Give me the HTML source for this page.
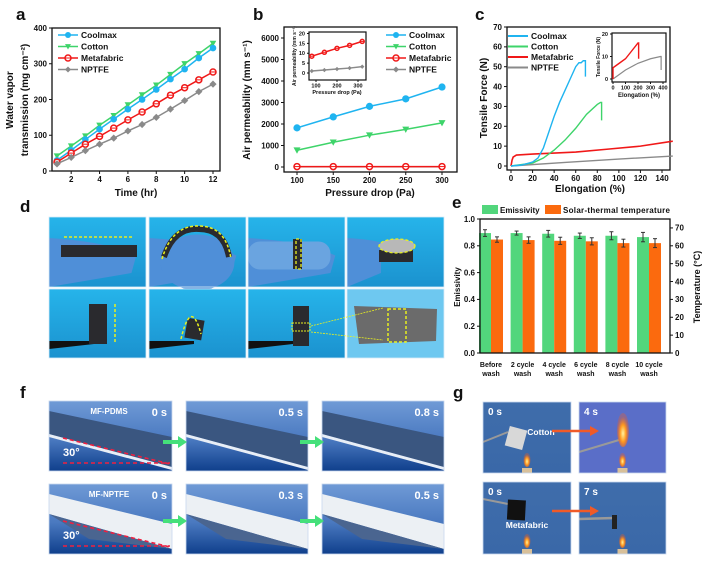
<!DOCTYPE html>
<html><head><meta charset="utf-8"><style>
body{margin:0;background:#fff;}
svg{display:block;font-family:"Liberation Sans",Arial,sans-serif;font-weight:bold;}
</style></head><body>
<svg id="fig" width="709" height="579" viewBox="0 0 709 579" xmlns="http://www.w3.org/2000/svg">
<defs>
<linearGradient id="bgD" x1="0" y1="0" x2="0" y2="1"><stop offset="0" stop-color="#26b4ea"/><stop offset="1" stop-color="#1b92cf"/></linearGradient>
<linearGradient id="bgF" x1="0" y1="0" x2="0" y2="1"><stop offset="0" stop-color="#6f9ad6"/><stop offset="0.55" stop-color="#4a79c0"/><stop offset="1" stop-color="#0f3f8c"/></linearGradient>
<linearGradient id="bgG" x1="0" y1="0" x2="0" y2="1"><stop offset="0" stop-color="#3f6dab"/><stop offset="1" stop-color="#3a68a8"/></linearGradient>
<radialGradient id="flame" cx="0.5" cy="0.6" r="0.5"><stop offset="0" stop-color="#fff3a0"/><stop offset="0.5" stop-color="#ff9a20"/><stop offset="1" stop-color="#ff5a10" stop-opacity="0.3"/></radialGradient>
</defs>
<g id="panels"></g>
</svg>
<script>
// ---------- Panel a data ----------
const aTimes=[1,2,3,4,5,6,7,8,9,10,11,12];
const aCoolmax=[30,58,88,117,145,173,200,228,257,285,316,344];
const aCotton=[42,70,98,128,155,185,213,240,270,300,328,357];
const aMeta=[25,50,75,97,120,143,165,188,212,233,255,277];
const aNptfe=[20,38,57,75,92,112,130,150,173,197,222,243];
const aXTicks=[2,4,6,8,10,12];
const aYTicks=[0,100,200,300,400];
// ---------- Panel b data ----------
const bPress=[100,150,200,250,300];
const bCoolmax=[1820,2330,2820,3170,3720];
const bCotton=[780,1150,1480,1750,2050];
const bMeta=[20,20,20,20,20];
const bNptfe=[10,10,10,10,10];
const bXTicks=[100,150,200,250,300];
const bYTicks=[0,1000,2000,3000,4000,5000,6000];
const bInsetX=[80,140,200,260,320];
const bInsetMeta=[8.5,10.5,12.5,14,16];
const bInsetNptfe=[1,1.5,2,2.5,3.2];
const bInsetXTicks=[100,200,300];
const bInsetYTicks=[0,5,10,15,20];
// ---------- Panel c data ----------
const cCoolX=[0,10,20,25,30,35,40,45,50,55,60,63,65,67,69,69];
const cCoolY=[0,0.5,2,4,9,17,25,32,38,44,50,52,52,53,53,45];
const cCotX=[0,20,30,40,50,60,70,80,83,84,84];
const cCotY=[0,1.5,4,8,13,19,26,31,32,32,23];
const cMetaX=[0,1,2,5,20,60,90,120,150];
const cMetaY=[0,3,4.5,5.5,6,7,8.5,10,12.5];
const cNpX=[0,50,100,150];
const cNpY=[0,1.8,3.5,5];
const cXTicks=[0,20,40,60,80,100,120,140];
const cYTicks=[0,10,20,30,40,50,60,70];
const cInMetaX=[0,0,50,100,150,200,205,205];
const cInMetaY=[0,5,7,9,12.5,16,16,9];
const cInNpX=[0,100,200,300,380,385,385];
const cInNpY=[0,4,7,9,10,10,4];
const cInXTicks=[0,100,200,300,400];
const cInYTicks=[0,10,20];
// ---------- Panel e data ----------
const eCats=[["Before","wash"],["2 cycle","wash"],["4 cycle","wash"],["6 cycle","wash"],["8 cycle","wash"],["10 cycle","wash"]];
const eEmis=[0.895,0.895,0.89,0.875,0.875,0.865];
const eEmisErr=[0.025,0.015,0.025,0.02,0.03,0.035];
const eTemp=[63.5,63.2,62.8,62.5,61.5,61.5];
const eTempErr=[1.5,1.8,2,2,2.2,2.5];
const eYTicks=[0,0.2,0.4,0.6,0.8,1.0];
const eY2Ticks=[0,10,20,30,40,50,60,70];

const NS="http://www.w3.org/2000/svg";
const root=document.getElementById('panels');
function el(tag,attrs,parent,text){const e=document.createElementNS(NS,tag);for(const k in attrs)e.setAttribute(k,attrs[k]);if(text!==undefined)e.textContent=text;(parent||root).appendChild(e);return e;}
function lin(d0,d1,r0,r1){return v=>r0+(v-d0)*(r1-r0)/(d1-d0);}
const C={cool:'#1fb4f0',cot:'#3ed46a',meta:'#f01818',np:'#8a8a8a'};

function frame(x0,y0,x1,y1,name,sw){const r=el('rect',{x:x0,y:y0,width:x1-x0,height:y1-y0,fill:'none',stroke:'#111','stroke-width':sw||1.3});return r;}
function xticks(ticks,sx,yb,fs,name,len){ticks.forEach(t=>{el('line',{x1:sx(t),x2:sx(t),y1:yb,y2:yb+(len||3),stroke:'#111','stroke-width':1});const tx=el('text',{x:sx(t),y:yb+(len||3)+fs,'font-size':fs,'text-anchor':'middle',fill:'#111'},root,String(t));});}
function yticks(ticks,sy,xl,fs,name,fmt,right,len){ticks.forEach(t=>{const d=right?1:-1;el('line',{x1:xl,x2:xl+d*(len||3),y1:sy(t),y2:sy(t),stroke:'#111','stroke-width':1});const tx=el('text',{x:xl+d*((len||3)+2),y:sy(t)+fs*0.35,'font-size':fs,'text-anchor':right?'start':'end',fill:'#111'},root,fmt?fmt(t):String(t));});}
function series(xs,ys,sx,sy,color,marker,name,r,sw){const pts=xs.map((x,i)=>sx(x)+','+sy(ys[i])).join(' ');const pl=el('polyline',{points:pts,fill:'none',stroke:color,'stroke-width':sw||1.5});
 if(marker)xs.forEach((x,i)=>{const m=drawMarker(marker,sx(x),sy(ys[i]),r||3,color);});}
function drawMarker(type,x,y,r,c){
 if(type==='circle')return el('circle',{cx:x,cy:y,r:r,fill:c});
 if(type==='tri')return el('polygon',{points:`${x-r},${y-r*0.8} ${x+r},${y-r*0.8} ${x},${y+r}`,fill:c});
 if(type==='ring'){const g=el('g',{});el('circle',{cx:x,cy:y,r:r,fill:'#fff',stroke:c,'stroke-width':1.5},g);el('line',{x1:x-r,x2:x+r,y1:y,y2:y,stroke:c,'stroke-width':1},g);return g;}
 if(type==='diamond')return el('polygon',{points:`${x},${y-r} ${x+r},${y} ${x},${y+r} ${x-r},${y}`,fill:c});
}
function label(x,y,t,fs,name,extra){const a=Object.assign({x:x,y:y,'font-size':fs,fill:'#111'},extra||{});const e=el('text',a,root,t);return e;}
function legend(x,y,dy,items,fs,name,lineOnly){items.forEach((it,i)=>{const yy=y+i*dy;el('line',{x1:x,x2:x+20,y1:yy,y2:yy,stroke:it[1],'stroke-width':lineOnly?2:1.5});if(!lineOnly){const m=drawMarker(it[2],x+10,yy,3,it[1]);}const t=label(x+23,yy+fs*0.36,it[0],fs,name+'-entry');});}

// ===== Panel a =====
label(16,20,'a',17,'panel-a-label');
{const sx=lin(1,12,57,213),sy=lin(0,400,171,28);
 frame(52,28,220,171,'panel-a-plot-frame');
 xticks(aXTicks,sx,171,8,'panel-a-x-tick');yticks(aYTicks,sy,52,8,'panel-a-y-tick');
 series(aTimes,aCotton,sx,sy,C.cot,'tri','cotton',3.3);
 series(aTimes,aCoolmax,sx,sy,C.cool,'circle','coolmax',3.3);
 series(aTimes,aMeta,sx,sy,C.meta,'ring','metafabric',3);
 series(aTimes,aNptfe,sx,sy,C.np,'diamond','nptfe',3.6);
 legend(58,35,11.5,[['Coolmax',C.cool,'circle'],['Cotton',C.cot,'tri'],['Metafabric',C.meta,'ring'],['NPTFE',C.np,'diamond']],8.5,'panel-a-legend');
 label(136,196,'Time (hr)',10,'panel-a-x-title',{'text-anchor':'middle'});
 label(13,100,'Water vapor',10,'panel-a-y-title',{'text-anchor':'middle',transform:'rotate(-90 13 100)'});
 label(28,100,'transmission (mg cm⁻²)',10,'panel-a-y-title',{'text-anchor':'middle',transform:'rotate(-90 28 100)'});
}
// ===== Panel b =====
label(253,20,'b',17,'panel-b-label');
{const sx=lin(100,300,297,442),sy=lin(0,6000,167,38);
 frame(284,27,457,172,'panel-b-plot-frame');
 xticks(bXTicks,sx,172,8,'panel-b-x-tick');yticks(bYTicks,sy,284,8,'panel-b-y-tick');
 series(bPress,bNptfe,sx,sy,C.np,'diamond','b-nptfe',3.6);
 series(bPress,bMeta,sx,sy,C.meta,'ring','b-metafabric',3);
 series(bPress,bCotton,sx,sy,C.cot,'tri','b-cotton',3.5);
 series(bPress,bCoolmax,sx,sy,C.cool,'circle','b-coolmax',3.6);
 legend(386,35,11.5,[['Coolmax',C.cool,'circle'],['Cotton',C.cot,'tri'],['Metafabric',C.meta,'ring'],['NPTFE',C.np,'diamond']],8.5,'panel-b-legend');
 label(370,196,'Pressure drop (Pa)',10,'panel-b-x-title',{'text-anchor':'middle'});
 label(250,100,'Air permeability (mm s⁻¹)',10,'panel-b-y-title',{'text-anchor':'middle',transform:'rotate(-90 250 100)'});
 const ix=lin(100,300,316,358),iy=lin(0,20,73,33.5);
 el('rect',{x:309,y:32,width:57,height:48,fill:'#fff'});
 frame(309,32,366,80,'panel-b-inset-frame',1.2);
 series(bInsetX,bInsetMeta,ix,iy,C.meta,'ring','b-inset-metafabric',2);
 series(bInsetX,bInsetNptfe,ix,iy,C.np,'diamond','b-inset-nptfe',2.2);
 xticks(bInsetXTicks,ix,80,5.5,'panel-b-inset-x-tick',2);yticks(bInsetYTicks,iy,309,5.5,'panel-b-inset-y-tick',null,false,2);
 label(337,94,'Pressure drop (Pa)',5.5,'panel-b-inset-x-title',{'text-anchor':'middle'});
 label(296,56,'Air permeability (mm s⁻¹)',5,'panel-b-inset-y-title',{'text-anchor':'middle',transform:'rotate(-90 296 56)'});
}
// ===== Panel c =====
label(475,20,'c',17,'panel-c-label');
{const sx=lin(0,140,511,662),sy=lin(0,70,166,27);
 frame(507,27,670,170,'panel-c-plot-frame');
 xticks(cXTicks,sx,170,8,'panel-c-x-tick');yticks(cYTicks,sy,507,8,'panel-c-y-tick');
 series(cNpX,cNpY,sx,sy,C.np,null,'c-nptfe',0,1.4);
 series(cMetaX,cMetaY,sx,sy,C.meta,null,'c-metafabric',0,1.6);
 series(cCotX,cCotY,sx,sy,C.cot,null,'c-cotton',0,1.4);
 series(cCoolX,cCoolY,sx,sy,C.cool,null,'c-coolmax',0,1.4);
 legend(508,36,10.5,[['Coolmax',C.cool],['Cotton',C.cot],['Metafabric',C.meta],['NPTFE',C.np]],8.5,'panel-c-legend',true);
 label(590,192,'Elongation (%)',10,'panel-c-x-title',{'text-anchor':'middle'});
 label(487,98,'Tensile Force (N)',10,'panel-c-y-title',{'text-anchor':'middle',transform:'rotate(-90 487 98)'});
 const ix=lin(0,400,613,663),iy=lin(0,20,79,34);
 frame(612,33,666,82,'panel-c-inset-frame',1.2);
 series(cInNpX,cInNpY,ix,iy,C.np,null,'c-inset-nptfe',0,1.2);
 series(cInMetaX,cInMetaY,ix,iy,C.meta,null,'c-inset-metafabric',0,1.4);
 xticks(cInXTicks,ix,82,5.5,'panel-c-inset-x-tick',2);yticks(cInYTicks,iy,612,5.5,'panel-c-inset-y-tick',null,false,2);
 label(639,97,'Elongation (%)',6,'panel-c-inset-x-title',{'text-anchor':'middle'});
 label(600,57,'Tensile Force (N)',5,'panel-c-inset-y-title',{'text-anchor':'middle',transform:'rotate(-90 600 57)'});
}
// ===== Panel e =====
label(452,208,'e',17,'panel-e-label');
{const sy=lin(0,1,353,219),sy2=lin(0,75,353,219);
 const gx=i=>491+i*31.6;
 eCats.forEach((c,i)=>{
  const b1=el('rect',{x:gx(i)-12,y:sy(eEmis[i]),width:12,height:353-sy(eEmis[i]),fill:'#52d67c'});
  
  const b2=el('rect',{x:gx(i),y:sy2(eTemp[i]),width:12,height:353-sy2(eTemp[i]),fill:'#fb6a0e'});
  
  [[gx(i)-6,sy(eEmis[i]+eEmisErr[i]),sy(eEmis[i]-eEmisErr[i])],[gx(i)+6,sy2(eTemp[i]+eTempErr[i]),sy2(eTemp[i]-eTempErr[i])]].forEach(q=>{
   el('line',{x1:q[0],x2:q[0],y1:q[1],y2:q[2],stroke:'#333','stroke-width':1});
   el('line',{x1:q[0]-2,x2:q[0]+2,y1:q[1],y2:q[1],stroke:'#333','stroke-width':1});
   el('line',{x1:q[0]-2,x2:q[0]+2,y1:q[2],y2:q[2],stroke:'#333','stroke-width':1});});
  label(gx(i),367,c[0],7,'panel-e-x-tick',{'text-anchor':'middle'});
  label(gx(i),376,c[1],7,'panel-e-x-tick',{'text-anchor':'middle'});
 });
 frame(480,219,670,353,'panel-e-plot-frame');
 yticks(eYTicks,sy,480,8,'panel-e-y-tick',v=>v.toFixed(1));
 yticks(eY2Ticks,sy2,670,8,'panel-e-y2-tick',null,true);
 el('rect',{x:482,y:205,width:16,height:9,fill:'#52d67c'});label(500,213,'Emissivity',8,'panel-e-legend-entry');
 el('rect',{x:545,y:205,width:16,height:9,fill:'#fb6a0e'});label(563,213,'Solar-thermal temperature',8,'panel-e-legend-entry',{textLength:107});
 label(460,287,'Emissivity',8,'panel-e-y-title',{'text-anchor':'middle',transform:'rotate(-90 460 287)'});
 label(700,287,'Temperature (°C)',9,'panel-e-y2-title',{'text-anchor':'middle',transform:'rotate(-90 700 287)'});
}
// ===== Panel d (photos) =====
label(20,212,'d',17,'panel-d-label');
{const cols=[[49,146],[149,246],[248,345],[347,444]],rows=[[217,287],[289,358]];
 rows.forEach((r,ri)=>cols.forEach((c,ci)=>{
  const g=el('g',{});
  const w=c[1]-c[0],h=r[1]-r[0];
  el('rect',{x:c[0],y:r[0],width:w,height:h,fill:(ri==1&&ci==3)?'#6ec8f0':'url(#bgD)'},g);
  if(ri==0){el('path',{d:`M${c[0]} ${r[0]+h*0.3} Q${c[0]+w*0.6} ${r[0]+h*0.35} ${c[0]+w*(ci==3?0.35:0.9)} ${r[0]+h*0.55} L${c[0]+w*(ci==3?0.35:0.85)} ${r[0]+h*0.8} L${c[0]} ${r[1]} Z`,fill:'#4f8fd8'},g);
   if(ci==1)el('ellipse',{cx:c[0]+w*0.5,cy:r[0]+h*0.65,rx:w*0.38,ry:h*0.4,fill:'#4f8fd8'},g);
   if(ci==2)el('rect',{x:c[0],y:r[0]+h*0.35,width:w*0.85,height:h*0.4,rx:12,fill:'#6aa4e0'},g);}
  const dk='#2a2a2e';
  if(ri==0&&ci==0){el('rect',{x:c[0]+12,y:r[0]+28,width:76,height:12,fill:dk},g);el('line',{x1:c[0]+15,x2:c[0]+84,y1:r[0]+20,y2:r[0]+20,stroke:'#e8f020','stroke-width':1.5,'stroke-dasharray':'3 2'},g);}
  if(ri==0&&ci==1){el('path',{d:`M${c[0]+15} ${r[0]+40} Q${c[0]+25} ${r[0]+10} ${c[0]+50} ${r[0]+12} Q${c[0]+75} ${r[0]+12} ${c[0]+80} ${r[0]+40}`,fill:'none',stroke:dk,'stroke-width':6},g);el('path',{d:`M${c[0]+13} ${r[0]+42} Q${c[0]+23} ${r[0]+8} ${c[0]+50} ${r[0]+9} Q${c[0]+77} ${r[0]+9} ${c[0]+82} ${r[0]+42}`,fill:'none',stroke:'#e8f020','stroke-width':1.5,'stroke-dasharray':'3 2'},g);}
  if(ri==0&&ci==2){el('rect',{x:c[0]+45,y:r[0]+22,width:9,height:30,fill:dk},g);el('rect',{x:c[0]+48,y:r[0]+22,width:5,height:30,fill:'none',stroke:'#e8f020','stroke-width':1.3,'stroke-dasharray':'3 2'},g);}
  if(ri==0&&ci==3){el('rect',{x:c[0]+32,y:r[0]+33,width:34,height:12,fill:dk},g);el('ellipse',{cx:c[0]+50,cy:r[0]+29,rx:18,ry:7,fill:'#b8b8b8',stroke:'#e8f020','stroke-width':1.3,'stroke-dasharray':'3 2'},g);}
  if(ri==1&&ci<3){el('path',{d:`M${c[0]} ${r[0]+60} L${c[0]+45} ${r[0]+55} L${c[0]+45} ${r[0]+52} L${c[0]} ${r[0]+52} Z`,fill:'#111'},g);
   if(ci==0){el('rect',{x:c[0]+40,y:r[0]+15,width:18,height:40,fill:dk},g);el('line',{x1:c[0]+66,x2:c[0]+66,y1:r[0]+15,y2:r[0]+55,stroke:'#e8f020','stroke-width':1.5,'stroke-dasharray':'3 2'},g);}
   if(ci==1){el('rect',{x:c[0]+37,y:r[0]+30,width:17,height:20,fill:dk,transform:`rotate(10 ${c[0]+45} ${r[0]+40})`},g);el('path',{d:`M${c[0]+32} ${r[0]+50} Q${c[0]+42} ${r[0]+8} ${c[0]+52} ${r[0]+45}`,fill:'none',stroke:'#e8f020','stroke-width':1.5,'stroke-dasharray':'3 2'},g);}
   if(ci==2){el('rect',{x:c[0]+45,y:r[0]+17,width:16,height:40,fill:dk},g);el('rect',{x:c[0]+44,y:r[0]+34,width:18,height:8,fill:'none',stroke:'#e8f020','stroke-width':1,'stroke-dasharray':'2 1'},g);}}
  if(ri==1&&ci==3){el('path',{d:`M${c[0]+7} ${r[0]+17} L${c[0]+90} ${r[0]+20} L${c[0]+89} ${r[0]+52} L${c[0]+12} ${r[0]+55} Z`,fill:'#6b6b6b'},g);el('rect',{x:c[0]+41,y:r[0]+20,width:18,height:33,fill:'none',stroke:'#e8f020','stroke-width':1.5,'stroke-dasharray':'3 2'},g);}
  el('rect',{x:c[0],y:r[0],width:w,height:h,fill:'none',stroke:'#d8ecf8','stroke-width':0.8},g);
 }));
 el('line',{x1:311,x2:383,y1:326,y2:308,stroke:'#e8f020','stroke-width':0.8,'stroke-dasharray':'2 1'});
 el('line',{x1:311,x2:383,y1:332,y2:340,stroke:'#e8f020','stroke-width':0.8,'stroke-dasharray':'2 1'});
}
// ===== Panel f (photos) =====
label(20,398,'f',17,'panel-f-label');
{const cols=[[49,172],[186,308],[322,444]],rows=[[401,471],[484,554]];
 const txt=[['0 s','0.5 s','0.8 s'],['0 s','0.3 s','0.5 s']];
 rows.forEach((r,ri)=>cols.forEach((c,ci)=>{
  const g=el('g',{});
  const w=c[1]-c[0],h=r[1]-r[0];
  el('rect',{x:c[0],y:r[0],width:w,height:h,fill:'url(#bgF)'},g);
  if(ri==0){el('path',{d:`M${c[0]} ${r[0]+10} L${c[1]} ${r[0]+36} L${c[1]} ${r[0]+66} L${c[0]} ${r[0]+33} Z`,fill:'#3a5680'},g);el('path',{d:`M${c[0]} ${r[0]+33} L${c[1]} ${r[0]+66} L${c[1]} ${r[0]+69} L${c[0]} ${r[0]+36} Z`,fill:'#e8eef6'},g);}
  else{el('path',{d:`M${c[0]} ${r[0]+10} L${c[1]} ${r[0]+40} L${c[1]} ${r[0]+65} L${c[0]} ${r[0]+30} Z`,fill:'#ecf0f4'},g);el('path',{d:`M${c[0]} ${r[0]+30} L${c[1]} ${r[0]+65} L${c[0]+40} ${r[0]+55} Z`,fill:'#4a6590'},g);}
  label(c[1]-5,r[0]+15,txt[ri][ci],11,'time-label',{'text-anchor':'end',fill:'#fff'});
  if(ci==0){label(c[0]+60,r[0]+13,ri?'MF-NPTFE':'MF-PDMS',8,'sample-label',{'text-anchor':'middle',fill:'#fff'});
   label(c[0]+14,r[0]+55,'30°',11,'angle-label',{fill:'#fff'});
   el('line',{x1:c[0]+14,x2:c[1]-2,y1:r[0]+62,y2:r[0]+62,stroke:'#f02040','stroke-width':1.6,'stroke-dasharray':'4 3'},g);
   el('line',{x1:c[0]+14,x2:c[1]-2,y1:r[0]+37,y2:r[0]+63,stroke:'#f02040','stroke-width':1.6,'stroke-dasharray':'4 3'},g);}
  el('rect',{x:c[0],y:r[0],width:w,height:h,fill:'none',stroke:'#c8d8ee','stroke-width':0.8},g);
 }));
 [[163,442],[300,442],[163,521],[300,521]].forEach(p=>{const a=el('path',{d:`M${p[0]} ${p[1]-2} L${p[0]+15} ${p[1]-2} L${p[0]+15} ${p[1]-6} L${p[0]+24} ${p[1]} L${p[0]+15} ${p[1]+6} L${p[0]+15} ${p[1]+2} L${p[0]} ${p[1]+2} Z`,fill:'#45e07a'});});
}
// ===== Panel g (photos) =====
label(453,398,'g',17,'panel-g-label');
{const cols=[[483,571],[579,666]],rows=[[402,473],[482,554]];
 const txt=[['0 s','4 s'],['0 s','7 s']];
 rows.forEach((r,ri)=>cols.forEach((c,ci)=>{
  const g=el('g',{});
  const w=c[1]-c[0],h=r[1]-r[0];
  el('rect',{x:c[0],y:r[0],width:w,height:h,fill:(ri==0&&ci==1)?'#5a6ec8':'url(#bgG)'},g);
  el('rect',{x:c[0]+w*0.5-5,y:r[1]-5,width:10,height:5,fill:'#d8c09a'},g);
  el('ellipse',{cx:c[0]+w*0.5,cy:r[1]-13,rx:3.5,ry:7,fill:'url(#flame)'},g);
  label(c[0]+5,r[0]+13,txt[ri][ci],10,'time-label',{fill:'#fff'});
  if(ci==0){el('line',{x1:c[0],x2:c[0]+25,y1:r[0]+(ri?17:40),y2:r[0]+(ri?22:30),stroke:'#999','stroke-width':2},g);
   el('rect',{x:c[0]+24,y:r[0]+(ri?18:26),width:18,height:20,fill:ri?'#111':'#d8d8d8',transform:`rotate(${ri?3:15} ${c[0]+33} ${r[0]+36})`},g);
   label(ri?c[0]+44:c[0]+58,r[0]+(ri?46:33),ri?'Metafabric':'Cotton',8.5,'sample-label',{'text-anchor':'middle',fill:'#fff'});}
  else if(ri==0){el('line',{x1:c[0],x2:c[0]+40,y1:r[0]+50,y2:r[0]+38,stroke:'#999','stroke-width':2},g);el('ellipse',{cx:c[0]+44,cy:r[0]+28,rx:6,ry:17,fill:'url(#flame)'},g);}
  else{el('line',{x1:c[0],x2:c[0]+35,y1:r[0]+37,y2:r[0]+36,stroke:'#999','stroke-width':2.5},g);el('rect',{x:c[0]+33,y:r[0]+33,width:5,height:14,fill:'#222'},g);}
  el('rect',{x:c[0],y:r[0],width:w,height:h,fill:'none',stroke:'#c8d8ee','stroke-width':0.8},g);
 }));
 [[552,431],[552,511]].forEach(p=>{const a=el('path',{d:`M${p[0]} ${p[1]-1.2} L${p[0]+38} ${p[1]-1.2} L${p[0]+38} ${p[1]-5} L${p[0]+47} ${p[1]} L${p[0]+38} ${p[1]+5} L${p[0]+38} ${p[1]+1.2} L${p[0]} ${p[1]+1.2} Z`,fill:'#f05a28'});});
}
</script>
</body></html>
